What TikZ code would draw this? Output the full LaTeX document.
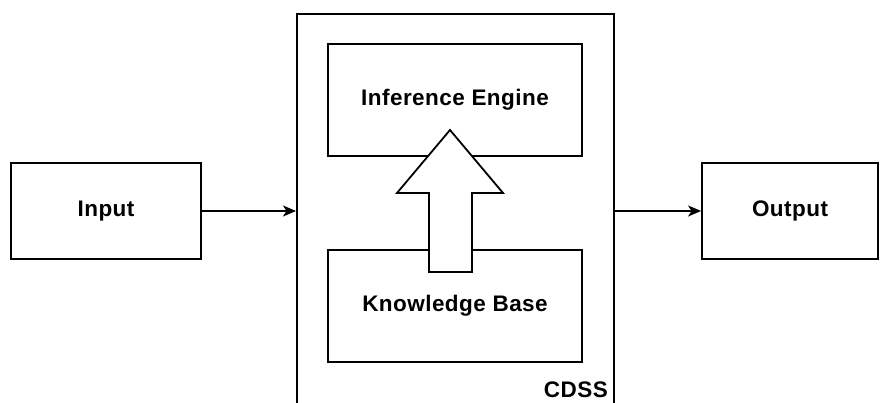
\documentclass[tikz,border=0pt]{standalone}
\usepackage{fontspec}
\setmainfont{Liberation Sans}[LetterSpace=2]
\usetikzlibrary{arrows.meta}
\begin{document}
\begin{tikzpicture}[x=1pt,y=-1pt,
  label text/.style={font=\fontsize{22.5}{27}\selectfont\bfseries},
  box/.style={draw,line width=1.8pt,fill=white,inner sep=0pt,label text},
  dataflow/.style={draw,line width=1.8pt,-{Stealth[length=13pt,width=11pt,inset=3.5pt]}},
  blockarrow/.style={draw,line width=1.8pt,fill=white,line join=miter}]
\useasboundingbox (0,0) rectangle (880,403);
% container, open at the bottom of the page
\node[box,anchor=north west,minimum width=317pt,minimum height=420pt] (cdss) at (296,13) {};
\node[label text,anchor=base east,inner sep=0pt] (cdsslabel) at (608,397) {CDSS};
% outer blocks
\node[box,minimum width=190pt,minimum height=96pt] (input) at (106,211) {Input};
\node[box,minimum width=176pt,minimum height=96pt] (output) at (790,211) {Output};
% inner blocks
\node[box,minimum width=254pt,minimum height=112pt] (ie) at (455,100) {Inference Engine};
\node[box,minimum width=254pt,minimum height=112pt] (kb) at (455,306) {Knowledge Base};
% hollow arrow from the knowledge base up into the inference engine
\draw[blockarrow] (429,272) -- (429,193) -- (397,193) -- (450,130) -- (503,193) -- (472,193) -- (472,272) -- cycle;
% data flow
\path[dataflow] (input.east) -- (input.east -| cdss.west);
\path[dataflow] (output.west -| cdss.east) -- (output.west);
\end{tikzpicture}
\end{document}
